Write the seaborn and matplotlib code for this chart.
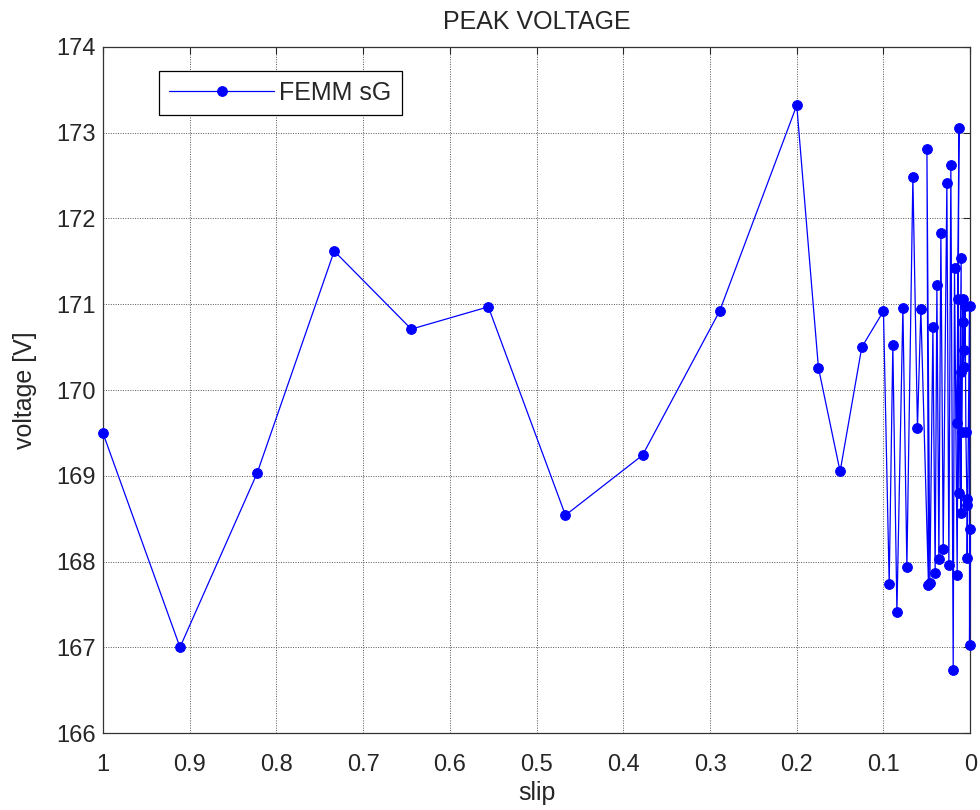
import matplotlib
matplotlib.use("Agg")
import matplotlib.pyplot as plt
import seaborn as sns
import pandas as pd

# slip values (x) and peak voltage (y), in data order
slip = [1.0, 0.9111, 0.8222, 0.7333, 0.6444, 0.5556, 0.4667, 0.3778, 0.2889, 0.2,
        0.175, 0.15, 0.125, 0.1,
        0.0934, 0.0892, 0.0845, 0.0776, 0.0730, 0.0661, 0.0608, 0.0569,
        0.0481, 0.0499, 0.0465, 0.0430, 0.0404, 0.0384, 0.0361, 0.0338,
        0.0311, 0.0269, 0.0246, 0.0223, 0.0196, 0.0181, 0.0150, 0.0130,
        0.0153, 0.0135, 0.0130, 0.0104, 0.0107, 0.0107, 0.0096, 0.0084,
        0.0084, 0.0077, 0.0066, 0.0058, 0.0050, 0.0038, 0.0038, 0.0035,
        0.0008, 0.0008, 0.0]
voltage = [169.50, 167.00, 169.03, 171.62, 170.71, 170.97, 168.54, 169.24, 170.92, 173.32,
           170.26, 169.05, 170.50, 170.92,
           167.74, 170.52, 167.41, 170.96, 167.94, 172.48, 169.56, 170.94,
           167.73, 172.81, 167.75, 170.73, 167.87, 171.22, 168.03, 171.83,
           168.15, 172.41, 167.96, 172.62, 166.73, 171.42, 167.84, 173.06,
           169.61, 171.06, 168.80, 171.54, 168.57, 170.21, 169.51, 171.06,
           170.79, 170.27, 170.47, 170.98, 169.51, 168.73, 168.66, 168.04,
           170.98, 167.03, 168.38]

xticks = [1, 0.9, 0.8, 0.7, 0.6, 0.5, 0.4, 0.3, 0.2, 0.1, 0]
xticklabels = ["1", "0.9", "0.8", "0.7", "0.6", "0.5", "0.4", "0.3", "0.2", "0.1", "0"]
yticks = [166, 167, 168, 169, 170, 171, 172, 173, 174]

df = pd.DataFrame({"slip": slip, "voltage": voltage})

sns.set_style("white")
plt.rcParams["font.family"] = ["Liberation Sans", "DejaVu Sans"]

fig = plt.figure(figsize=(9.8, 8.1), dpi=100)
ax = fig.add_axes([0.105, 0.095, 0.885, 0.847])

sns.lineplot(data=df, x="slip", y="voltage", sort=False, estimator=None,
             color=(0, 0, 1), linewidth=0.9, marker="o", markersize=7,
             markeredgecolor=(0, 0, 1), markerfacecolor=(0, 0, 1),
             label="FEMM sG", ax=ax, clip_on=False, zorder=5)

ax.set_xlim(1, 0)
ax.set_ylim(166, 174)
ax.set_xticks(xticks)
ax.set_xticklabels(xticklabels)
ax.set_yticks(yticks)
ax.tick_params(axis="both", labelsize=17, direction="in", length=5,
               top=True, right=True, width=0.8, pad=5)
ax.tick_params(axis="x", pad=15)
ax.grid(True, linestyle=(0, (1, 1.5)), color="#555555", linewidth=0.7)
for s in ax.spines.values():
    s.set_visible(True)
    s.set_color("#333333")
    s.set_linewidth(0.9)

ax.set_xlabel("slip", fontsize=18, labelpad=4)
ax.set_ylabel("voltage [V]", fontsize=18, labelpad=14)
ax.set_title("PEAK VOLTAGE", fontsize=18, pad=13)

leg = ax.legend(loc="upper left", bbox_to_anchor=(0.065, 0.965), fontsize=18,
                frameon=True, fancybox=False, edgecolor="black", framealpha=1,
                handlelength=4.2, borderpad=0.4, handletextpad=0.2,
                borderaxespad=0)
leg.get_frame().set_linewidth(0.9)

fig.savefig("out.png", dpi=100)
